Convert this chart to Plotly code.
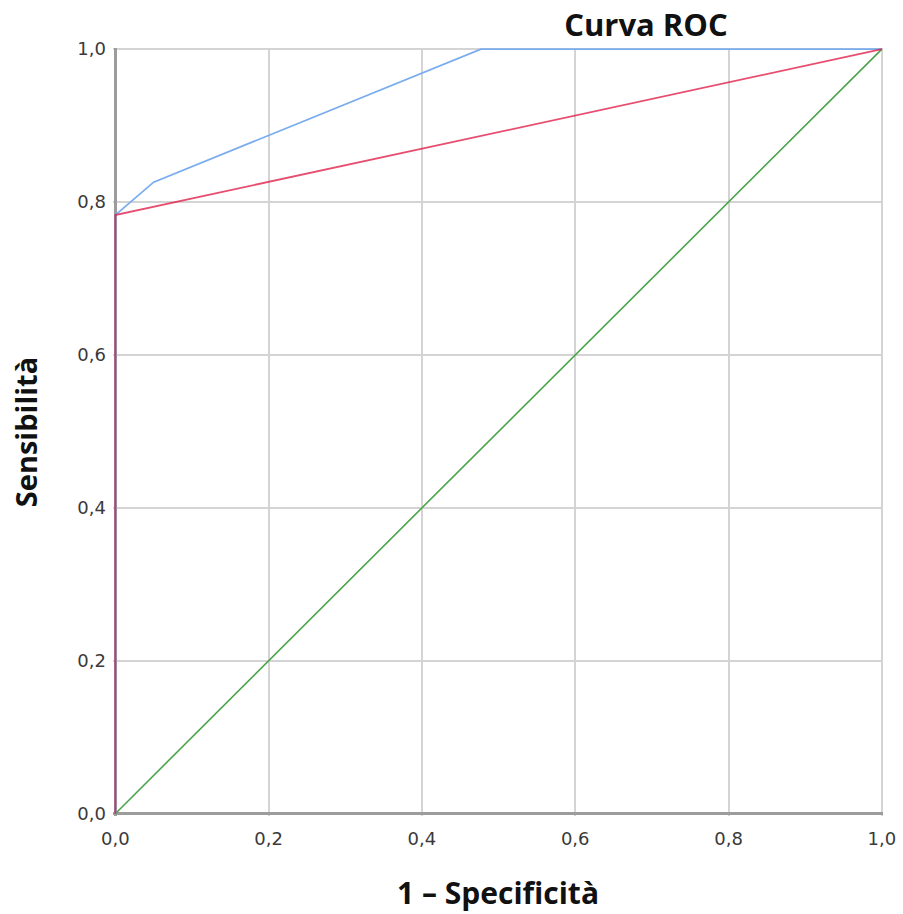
import plotly.graph_objects as go

# ROC curves
blue_x = [0.0, 0.0, 0.05, 0.477, 1.0]
blue_y = [0.0, 0.783, 0.826, 1.0, 1.0]
red_x = [0.0, 0.0, 1.0]
red_y = [0.0, 0.783, 1.0]
ref_x = [0.0, 1.0]
ref_y = [0.0, 1.0]
tick_vals = [0.0, 0.2, 0.4, 0.6, 0.8, 1.0]
tick_text = ["0,0", "0,2", "0,4", "0,6", "0,8", "1,0"]

fig = go.Figure()
fig.add_trace(go.Scatter(x=ref_x, y=ref_y, mode="lines",
                         line=dict(color="#4ba34b", width=1.6), showlegend=False))
fig.add_trace(go.Scatter(x=blue_x, y=blue_y, mode="lines",
                         line=dict(color="#7aaded", width=1.8), showlegend=False))
fig.add_trace(go.Scatter(x=red_x, y=red_y, mode="lines", opacity=0.75,
                         line=dict(color="#e0123f", width=1.8), showlegend=False))

pad = 0.003
axis_common = dict(
    range=[-pad, 1 + pad / 2], tickvals=tick_vals, ticktext=tick_text,
    showgrid=True, gridcolor="#d4d4d4", gridwidth=2,
    zeroline=True, zerolinecolor="#9c9c9c", zerolinewidth=3,
    showline=False, ticks="", automargin=False,
    tickfont=dict(family="DejaVu Sans", size=18, color="#3a3a3a"),
)

fig.update_layout(
    width=903, height=914,
    margin=dict(l=113, r=20, t=48, b=98),
    plot_bgcolor="white", paper_bgcolor="white",
    title=dict(text="<b>Curva ROC</b>", x=646 / 903, xanchor="center",
               y=1 - 25 / 914, yanchor="middle",
               font=dict(family="Open Sans", size=31, color="#111111")),
    xaxis=dict(**axis_common,
               title=dict(text="<b>1 – Specificità</b>", standoff=34,
                          font=dict(family="Open Sans", size=30, color="#111111"))),
    yaxis=dict(**axis_common,
               title=dict(text="<b>Sensibilità</b>", standoff=31,
                          font=dict(family="Open Sans", size=29, color="#111111"))),
)
fig.update_xaxes(ticklabelstandoff=10)
fig.update_yaxes(ticklabelstandoff=6)

fig.write_html("out.html")
